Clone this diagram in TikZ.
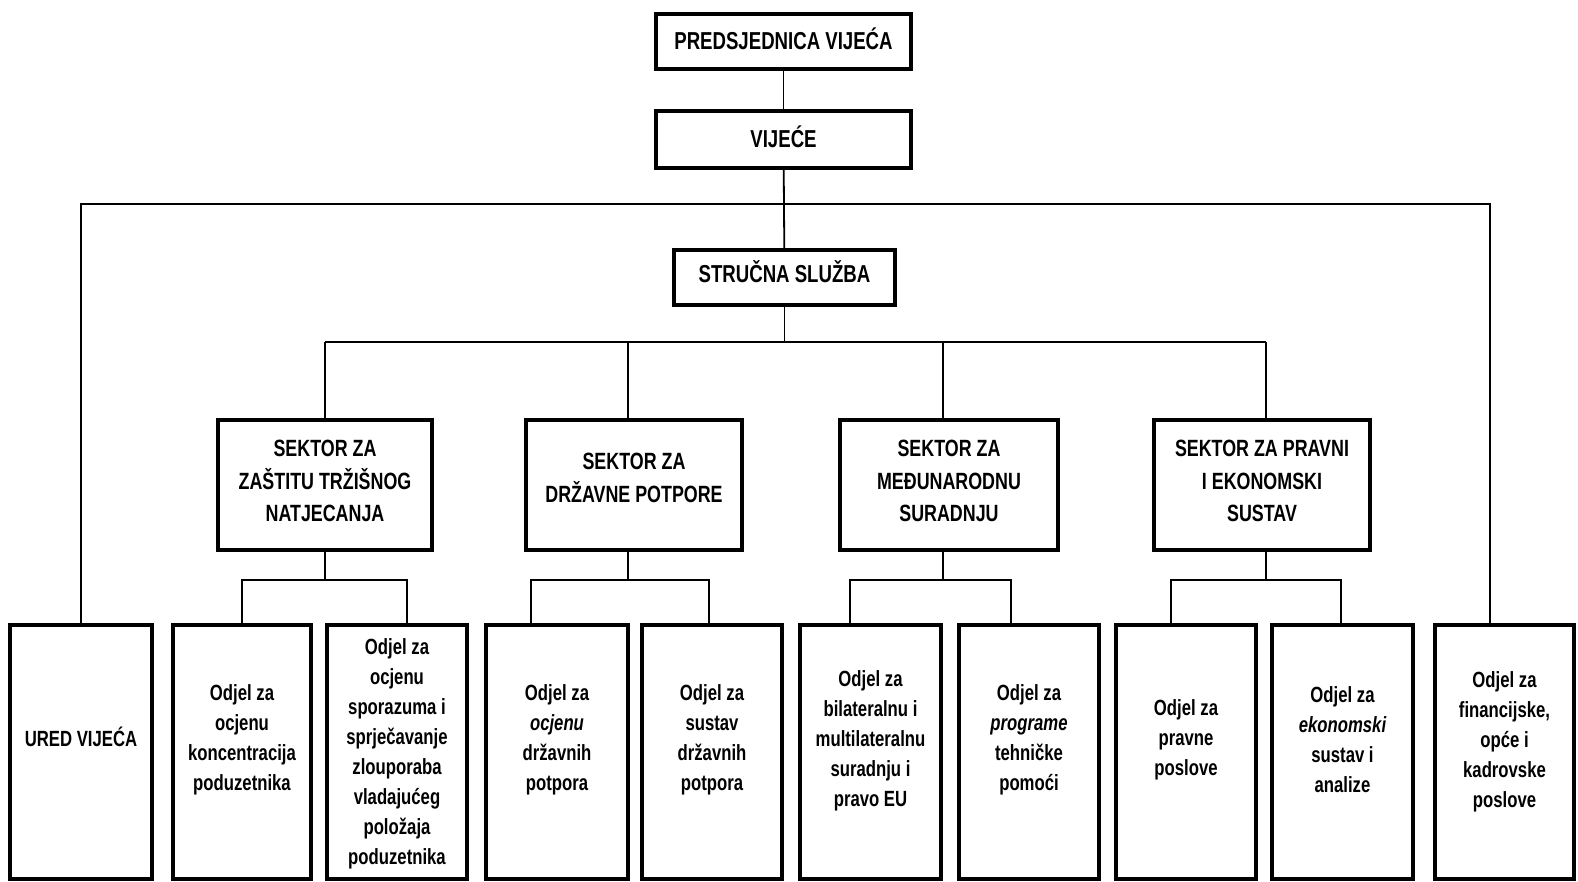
\documentclass[tikz,border=0pt]{standalone}
\usepackage{fontspec}
\newfontfamily\cf{Liberation Sans}[FakeStretch=0.76]
\begin{document}
\begin{tikzpicture}[x=1pt,y=-1pt,
  box/.style={draw, line width=4pt, inner sep=0pt, align=center},
  conn/.style={line width=1.8pt},
  tfont/.style={font=\cf\bfseries\fontsize{24.5}{30}\selectfont, inner sep=0pt},
  sfont/.style={font=\cf\bfseries\fontsize{23.5}{32.5}\selectfont, align=center, inner sep=0pt},
  bfont/.style={font=\cf\bfseries\fontsize{22}{30}\selectfont, align=center, inner sep=0pt},
]
\useasboundingbox (0,0) rectangle (1578,881);
% top boxes
\node[box,minimum width=255pt,minimum height=55pt] (pred) at (783.5,41.5) {};
\node[box,minimum width=255pt,minimum height=57pt] (vij) at (783.5,139.5) {};
\node[box,minimum width=221pt,minimum height=55pt] (struc) at (784.5,277.5) {};
\node[tfont] (tpred) at (783.5,39) {PREDSJEDNICA VIJEĆA};
\node[tfont] (tvij) at (783.5,136.5) {VIJEĆE};
\node[tfont] (tstruc) at (784.5,272) {STRUČNA SLUŽBA};
% sectors
\node[box,minimum width=214pt,minimum height=130pt] (s1) at (325,485) {};
\node[box,minimum width=216pt,minimum height=130pt] (s2) at (634,485) {};
\node[box,minimum width=218pt,minimum height=130pt] (s3) at (949,485) {};
\node[box,minimum width=216pt,minimum height=130pt] (s4) at (1262,485) {};
\node[sfont] (ts1) at (325,481) {SEKTOR ZA\\ZAŠTITU TRŽIŠNOG\\NATJECANJA};
\node[sfont] (ts2) at (634,478) {SEKTOR ZA\\DRŽAVNE POTPORE};
\node[sfont] (ts3) at (949,481) {SEKTOR ZA\\MEĐUNARODNU\\SURADNJU};
\node[sfont] (ts4) at (1262,481) {SEKTOR ZA PRAVNI\\I EKONOMSKI\\SUSTAV};
% bottom boxes
\node[box,minimum width=142pt,minimum height=254pt] (b1) at (81,752) {};
\node[box,minimum width=138pt,minimum height=254pt] (b2) at (242,752) {};
\node[box,minimum width=140pt,minimum height=254pt] (b3) at (397,752) {};
\node[box,minimum width=142pt,minimum height=254pt] (b4) at (557,752) {};
\node[box,minimum width=140pt,minimum height=254pt] (b5) at (712,752) {};
\node[box,minimum width=141pt,minimum height=254pt] (b6) at (870.5,752) {};
\node[box,minimum width=140pt,minimum height=254pt] (b7) at (1029,752) {};
\node[box,minimum width=140pt,minimum height=254pt] (b8) at (1186,752) {};
\node[box,minimum width=141pt,minimum height=254pt] (b9) at (1342.5,752) {};
\node[box,minimum width=139pt,minimum height=254pt] (b10) at (1504.5,752) {};
% bottom texts
\node[bfont] (t1) at (81,737) {URED VIJEĆA};
\node[bfont] (t2) at (242,740) {Odjel za\\ocjenu\\koncentracija\\poduzetnika};
\node[bfont] (t3) at (397,754) {Odjel za\\ocjenu\\sporazuma i\\sprječavanje\\zlouporaba\\vladajućeg\\položaja\\poduzetnika};
\node[bfont] (t4) at (557,740) {Odjel za\\{\itshape ocjenu}\\državnih\\potpora};
\node[bfont] (t5) at (712,740) {Odjel za\\sustav\\državnih\\potpora};
\node[bfont] (t6) at (870.5,741) {Odjel za\\bilateralnu i\\multilateralnu\\suradnju i\\pravo EU};
\node[bfont] (t7) at (1029,740) {Odjel za\\{\itshape programe}\\tehničke\\pomoći};
\node[bfont] (t8) at (1186,740) {Odjel za\\pravne\\poslove};
\node[bfont] (t9) at (1342.5,740) {Odjel za\\{\itshape ekonomski}\\sustav i\\analize};
\node[bfont] (t10) at (1504.5,742) {Odjel za\\financijske,\\opće i\\kadrovske\\poslove};
% connectors
\draw[conn] (pred) -- (vij);
\draw[conn] (vij) -- (struc);
\coordinate (tl) at (81,204);
\coordinate (tr) at (1490,204);
\draw[conn] (b1.north) -- (tl) -- (tr) -- (tr |- b10.north);
\coordinate (sl) at (325,342);
\coordinate (sr) at (1266,342);
\coordinate (v2) at (628,342);
\coordinate (v3) at (943,342);
\draw[conn] (struc) -- (struc |- sl);
\draw[conn] (sl) -- (sr);
\draw[conn] (sl) -- (s1);
\draw[conn] (v2) -- (v2 |- s2.north);
\draw[conn] (v3) -- (v3 |- s3.north);
\draw[conn] (sr) -- (sr |- s4.north);
% sector 1 sub
\coordinate (a1) at (242,580);
\coordinate (a2) at (407,580);
\draw[conn] (s1) -- (s1 |- a1);
\draw[conn] (b2.north) -- (a1) -- (a2) -- (a2 |- b3.north);
% sector 2 sub
\coordinate (c0) at (628,580);
\coordinate (c1) at (531,580);
\coordinate (c2) at (709,580);
\draw[conn] (c0 |- s2.south) -- (c0);
\draw[conn] (c1 |- b4.north) -- (c1) -- (c2) -- (c2 |- b5.north);
% sector 3 sub
\coordinate (d0) at (943,580);
\coordinate (d1) at (850,580);
\coordinate (d2) at (1011,580);
\draw[conn] (d0 |- s3.south) -- (d0);
\draw[conn] (d1 |- b6.north) -- (d1) -- (d2) -- (d2 |- b7.north);
% sector 4 sub
\coordinate (e0) at (1266,580);
\coordinate (e1) at (1171,580);
\coordinate (e2) at (1341,580);
\draw[conn] (e0 |- s4.south) -- (e0);
\draw[conn] (e1 |- b8.north) -- (e1) -- (e2) -- (e2 |- b9.north);
\end{tikzpicture}
\end{document}
